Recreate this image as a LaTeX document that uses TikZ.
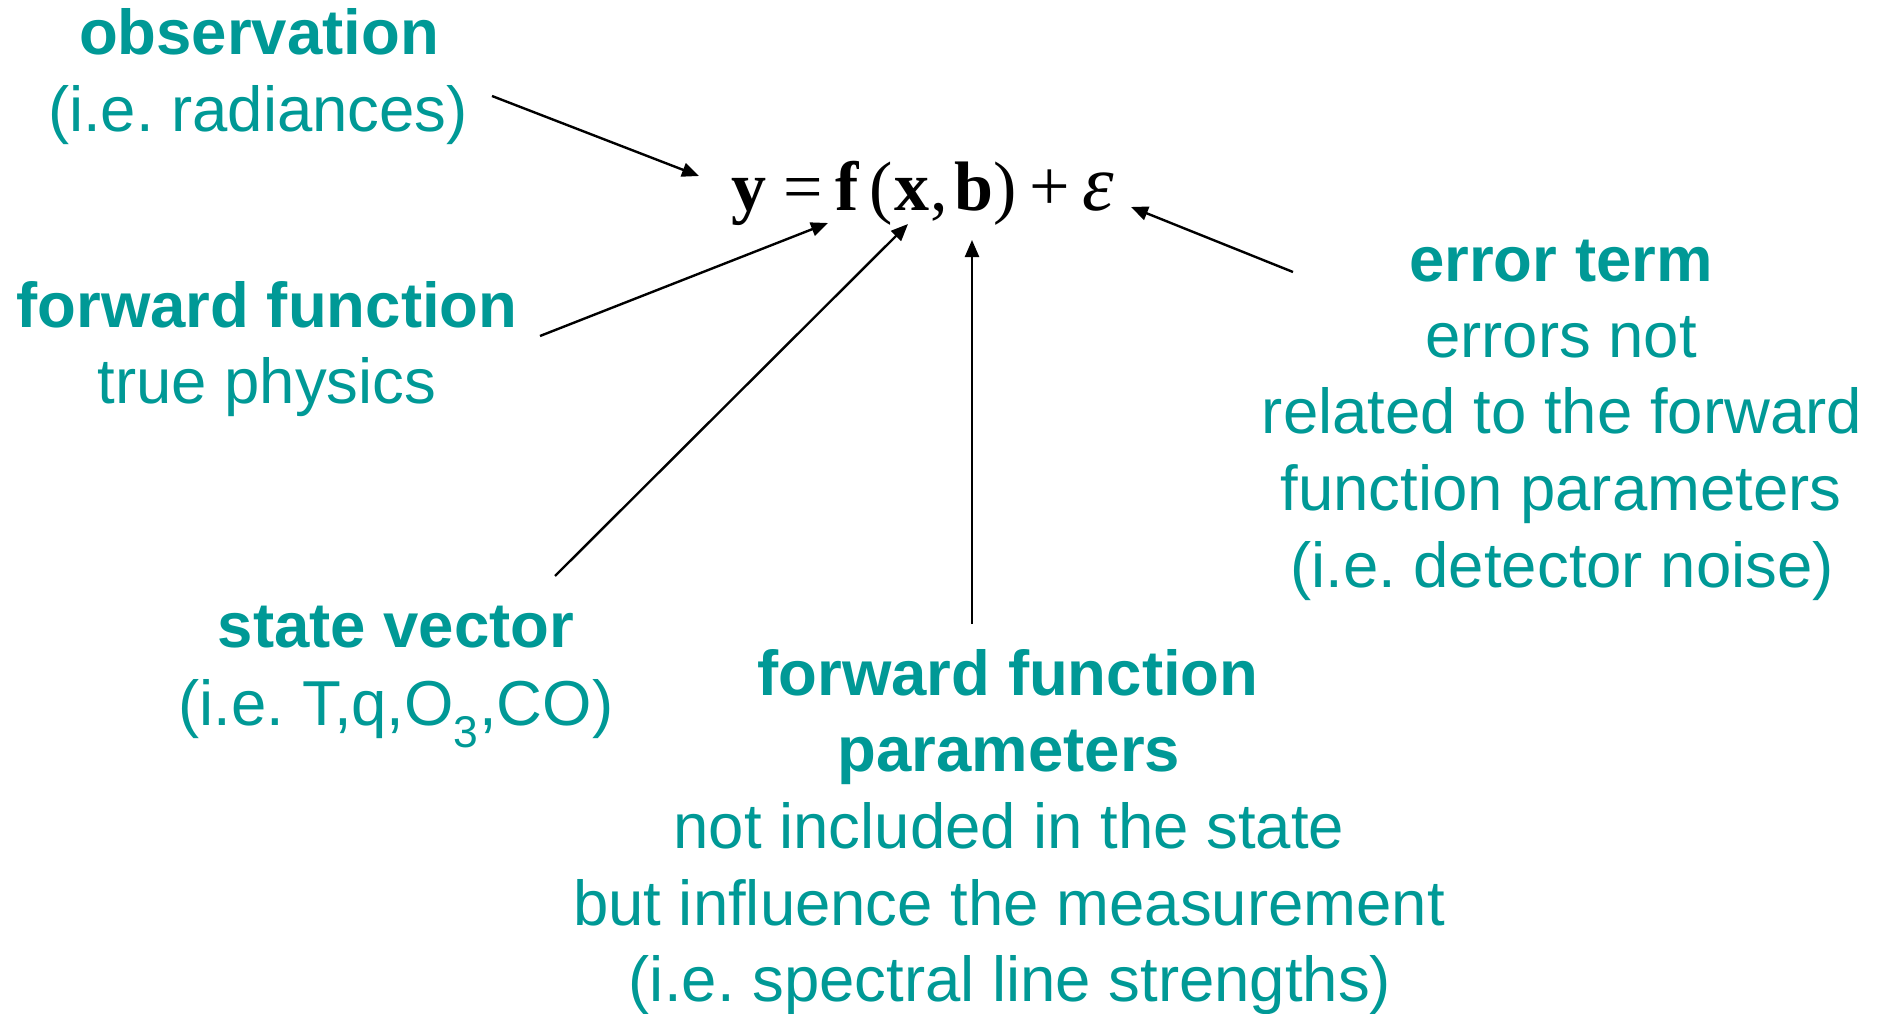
\documentclass[tikz,border=0pt]{standalone}
\usepackage{fontspec}
\setmainfont{Liberation Sans}
\newfontfamily\eqfont{Liberation Serif}
\usetikzlibrary{arrows.meta}
\definecolor{teal1}{RGB}{0,153,150}
\frenchspacing
\tikzset{
  lbl/.style={anchor=base, inner sep=0pt, text=teal1, font=\frenchspacing\fontsize{63.5}{76}\selectfont},
  blbl/.style={lbl, font=\frenchspacing\fontsize{63.5}{76}\selectfont\bfseries},
  arr/.style={draw=black, line width=2.4pt, -{Triangle[length=17pt,width=14pt]}}
}
\begin{document}
\begin{tikzpicture}[x=1pt, y=-1pt]
\useasboundingbox (0,0) rectangle (1883,1014);
% equation
\node[anchor=base west, inner sep=0pt, font=\eqfont\fontsize{70}{72}\selectfont] (eq) at (731,210)
  {\textbf{y}\kern17pt=\kern12.5pt\textbf{f}\kern10pt(\kern2pt\textbf{x}\kern1pt,\kern6.5pt\textbf{b}\kern0pt)\kern13pt{\fontsize{72}{72}\selectfont+}\kern12pt{\fontsize{80}{80}\selectfont\textit{ε}}};
% observation
\node[blbl] (obs1) at (259,55) {observation};
\node[lbl] (obs2) at (258,132) {(i.e. radiances)};
% forward function
\node[blbl] (ff1) at (267,327) {forward function};
\node[lbl] (ff2) at (267,403) {true physics};
% state vector
\node[blbl] (sv1) at (396,647) {state vector};
\node[lbl] (sv2) at (396,725) {(i.e. T,q,O\textsubscript{3},CO)};
% forward function parameters
\node[blbl] (fp1) at (1008,695) {forward function};
\node[blbl] (fp2) at (1009,771) {parameters};
\node[lbl] (fp3) at (1009,848) {not included in the state};
\node[lbl] (fp4) at (1009,925) {but influence the measurement};
\node[lbl] (fp5) at (1010,1001) {(i.e. spectral line strengths)};
% error term
\node[blbl] (er1) at (1561,281) {error term};
\node[lbl] (er2) at (1561,357) {errors not};
\node[lbl] (er3) at (1562,433) {related to the forward};
\node[lbl] (er4) at (1561,510) {function parameters};
\node[lbl] (er5) at (1562,587) {(i.e. detector noise)};
% arrow end points
\coordinate (obsS) at (492,96);  \coordinate (obsT) at (699,176);
\coordinate (ffS) at (540,336);  \coordinate (ffT) at (828,223);
\coordinate (svS) at (555,576);  \coordinate (svT) at (908,224);
\coordinate (fpS) at (972,624);  \coordinate (fpT) at (972,240);
\coordinate (erS) at (1293,272); \coordinate (erT) at (1131,207);
\draw[arr] (obsS) -- (obsT);
\draw[arr] (ffS) -- (ffT);
\draw[arr] (svS) -- (svT);
\draw[arr] (fpS) -- (fpT);
\draw[arr] (erS) -- (erT);
\end{tikzpicture}
\end{document}
